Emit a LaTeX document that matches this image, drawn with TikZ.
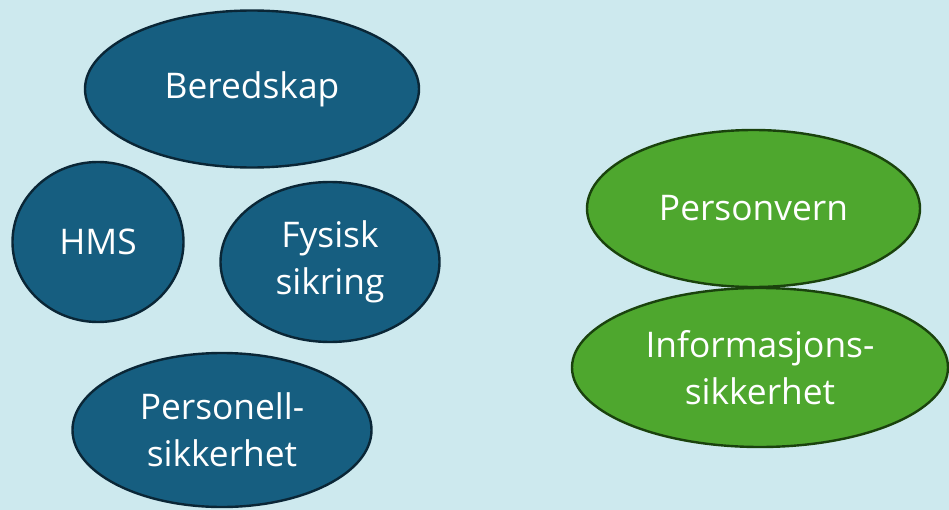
\documentclass[tikz,border=0pt]{standalone}
\usepackage{fontspec}
\setmainfont{Open Sans}
\usetikzlibrary{shapes.geometric}
\definecolor{bg}{HTML}{CDE9EE}
\definecolor{bluefill}{HTML}{165E80}
\definecolor{blueline}{HTML}{0A2636}
\definecolor{greenfill}{HTML}{4EA72E}
\definecolor{greenline}{HTML}{1A420D}
\tikzset{
  blob/.style={ellipse, draw, line width=1.8pt, inner sep=0pt, text=white, align=center,
    font=\fontsize{26.5}{35}\selectfont},
  blueblob/.style={blob, fill=bluefill, draw=blueline},
  greenblob/.style={blob, fill=greenfill, draw=greenline},
}
\begin{document}
\begin{tikzpicture}[x=0.75pt, y=-0.75pt]
\fill[bg] (0,0) rectangle (949,510);
\useasboundingbox (0,0) rectangle (949,510);
\node[blueblob, minimum width=334*0.75pt, minimum height=157*0.75pt] (bered) at (252,89) {Beredskap};
\node[blueblob, minimum width=171*0.75pt, minimum height=160*0.75pt] (hms) at (98,242) {HMS};
\node[blueblob, minimum width=219*0.75pt, minimum height=160*0.75pt] (fys) at (330,262) {Fysisk\\sikring};
\node[blueblob, minimum width=299*0.75pt, minimum height=154*0.75pt] (pers) at (222,430) {Personell-\\sikkerhet};
\node[greenblob, minimum width=333*0.75pt, minimum height=157*0.75pt] (pv) at (753.5,208.5) {Personvern};
\node[greenblob, minimum width=376*0.75pt, minimum height=159*0.75pt] (info) at (760,367.5) {Informasjons-\\sikkerhet};
\end{tikzpicture}
\end{document}
